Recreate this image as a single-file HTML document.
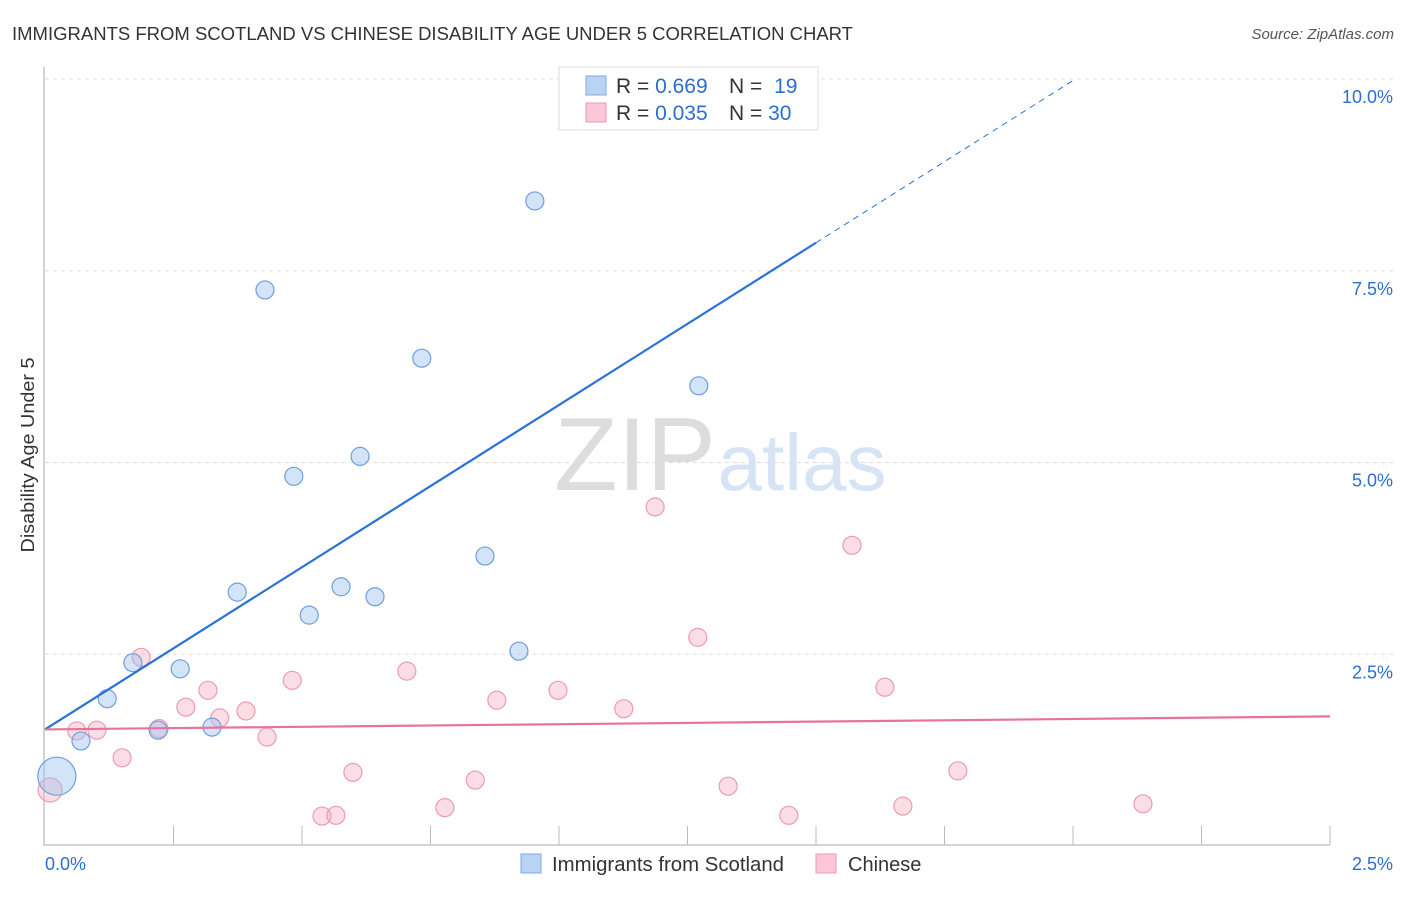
<!DOCTYPE html>
<html><head><meta charset="utf-8"><style>
body{margin:0;background:#fff;font-family:"Liberation Sans",sans-serif;}
svg text{font-family:"Liberation Sans",sans-serif;}
</style></head><body>
<svg id="chart" width="1406" height="892" xmlns="http://www.w3.org/2000/svg">
<text x="12" y="40" font-size="18" textLength="841" lengthAdjust="spacingAndGlyphs" fill="#333">IMMIGRANTS FROM SCOTLAND VS CHINESE DISABILITY AGE UNDER 5 CORRELATION CHART</text>
<text x="1394" y="39" font-size="15" fill="#555" font-style="italic" text-anchor="end">Source: ZipAtlas.com</text>
<text transform="translate(34,455) rotate(-90)" font-size="18" textLength="195" lengthAdjust="spacingAndGlyphs" fill="#333" text-anchor="middle">Disability Age Under 5</text>
<g>
<text x="635" y="490" font-size="104" fill="#ddd" font-family="Liberation Serif" text-anchor="middle">ZIP</text>
<text x="802" y="490" font-size="80" fill="#d6e4f5" text-anchor="middle">atlas</text>
</g>
<g id="grid"></g><g id="axes"></g><g id="marks"></g>
<g>
<rect x="559" y="67" width="259" height="63" fill="#fff" stroke="#ddd"/>
<rect x="586" y="76" width="20" height="19" fill="#b9d3f5" stroke="#7fa9e0"/>
<rect x="586" y="103" width="20" height="19" fill="#fbc6d5" stroke="#ec9bb3"/>
<text x="616" y="93" font-size="21" fill="#333">R = <tspan fill="#2a6fd0">0.669</tspan></text>
<text x="729" y="93" font-size="21" fill="#333">N = <tspan fill="#2a6fd0" dx="6">19</tspan></text>
<text x="616" y="120" font-size="21" fill="#333">R = <tspan fill="#2a6fd0">0.035</tspan></text>
<text x="729" y="120" font-size="21" fill="#333">N = <tspan fill="#2a6fd0">30</tspan></text>
</g>
<g>
<rect x="521" y="854" width="20" height="19" fill="#b9d3f5" stroke="#7fa9e0"/>
<text x="552" y="871" font-size="20" textLength="232" lengthAdjust="spacingAndGlyphs" fill="#333">Immigrants from Scotland</text>
<rect x="816" y="854" width="20" height="19" fill="#fbc6d5" stroke="#ec9bb3"/>
<text x="848" y="871" font-size="20" fill="#333">Chinese</text>
</g>
</svg>
<script>
const blueX=[0.023,0.070,0.121,0.171,0.220,0.263,0.325,0.374,0.428,0.484,0.514,0.576,0.613,0.642,0.733,0.856,0.922,0.953,1.272];
const blueY=[0.91,1.37,1.92,2.39,1.51,2.31,1.55,3.31,7.25,4.82,3.01,3.38,5.08,3.25,6.36,3.78,2.54,8.41,6.00];
const blueR=[19,9,9,9,9,9,9,9,9,9,9,9,9,9,9,9,9,9,9];
const pinkX=[0.010,0.062,0.101,0.150,0.187,0.222,0.274,0.317,0.340,0.391,0.432,0.481,0.539,0.566,0.599,0.704,0.778,0.837,0.879,0.998,1.126,1.187,1.270,1.329,1.447,1.570,1.634,1.669,1.776,2.136];
const pinkY=[0.73,1.50,1.51,1.15,2.46,1.53,1.81,2.03,1.67,1.76,1.42,2.16,0.39,0.40,0.96,2.28,0.50,0.86,1.90,2.03,1.79,4.42,2.72,0.78,0.40,3.92,2.07,0.52,0.98,0.55];
const pinkR=[12,9,9,9,9,9,9,9,9,9,9,9,9,9,9,9,9,9,9,9,9,9,9,9,9,9,9,9,9,9];
const blueLine=[1.52,4.23]; // intercept, slope
const pinkLine=[1.52,0.068];
const yTicks=[2.5,5.0,7.5,10.0];
const xTicks=[0,0.25,0.5,0.75,1,1.25,1.5,1.75,2,2.25,2.5];
const X0=45,X1=1330,Y0=846,Y1=79;
const sx=v=>X0+v/2.5*(X1-X0), sy=v=>Y0-v/10*(Y0-Y1);
const NS="http://www.w3.org/2000/svg";
function mk(parent,tag,attrs){const e=document.createElementNS(NS,tag);for(const k in attrs)e.setAttribute(k,attrs[k]);document.getElementById(parent).appendChild(e);return e;}
yTicks.forEach(t=>{
 const l=mk('grid','line',{x1:X0,x2:1394,y1:sy(t),y2:sy(t),stroke:'#ddd','stroke-dasharray':'4,4'});
 
 
 const tx=mk('axes','text',{x:1393,y:sy(t)+24,'font-size':18,fill:'#2a6fd0','text-anchor':'end'});
 tx.textContent=t.toFixed(1)+'%';
 
 
});
const ax=mk('axes','path',{d:`M${X0-1},67 V${Y0-1} H${X1}`,fill:'none',stroke:'#aaa'});


xTicks.forEach((t,i)=>{if(i==0)return;
 const l=mk('axes','line',{x1:sx(t),x2:sx(t),y1:826,y2:845,stroke:'#bbb'});
 
 
});
[[0,'start',45],[2.5,'end',1393]].forEach(([v,a,x])=>{
 const tx=mk('axes','text',{x:x,y:870,'font-size':18,fill:'#2a6fd0','text-anchor':a});
 tx.textContent=v.toFixed(1)+'%';
 
 
});
pinkX.forEach((v,i)=>{
 const c=mk('marks','circle',{cx:sx(v),cy:sy(pinkY[i]),r:pinkR[i],fill:'rgba(246,170,192,0.4)',stroke:'#ec9bb3','stroke-width':1.2});
 
 
});
blueX.forEach((v,i)=>{
 const c=mk('marks','circle',{cx:sx(v),cy:sy(blueY[i]),r:blueR[i],fill:'rgba(160,195,240,0.45)',stroke:'#6f9fdc','stroke-width':1.2});
 
 
});
const bEnd=1.5, bMax=(10-blueLine[0])/blueLine[1];
const bl=mk('marks','line',{x1:sx(0),y1:sy(blueLine[0]),x2:sx(bEnd),y2:sy(blueLine[0]+blueLine[1]*bEnd),stroke:'#2a72d5','stroke-width':2.2});


const bd=mk('marks','line',{x1:sx(bEnd),y1:sy(blueLine[0]+blueLine[1]*bEnd),x2:sx(bMax),y2:sy(10),stroke:'#2a72d5','stroke-width':1,'stroke-dasharray':'6,5'});


const pl=mk('marks','line',{x1:sx(0),y1:sy(pinkLine[0]),x2:sx(2.5),y2:sy(pinkLine[0]+pinkLine[1]*2.5),stroke:'#e8739a','stroke-width':2.2});


</script>
</body></html>
